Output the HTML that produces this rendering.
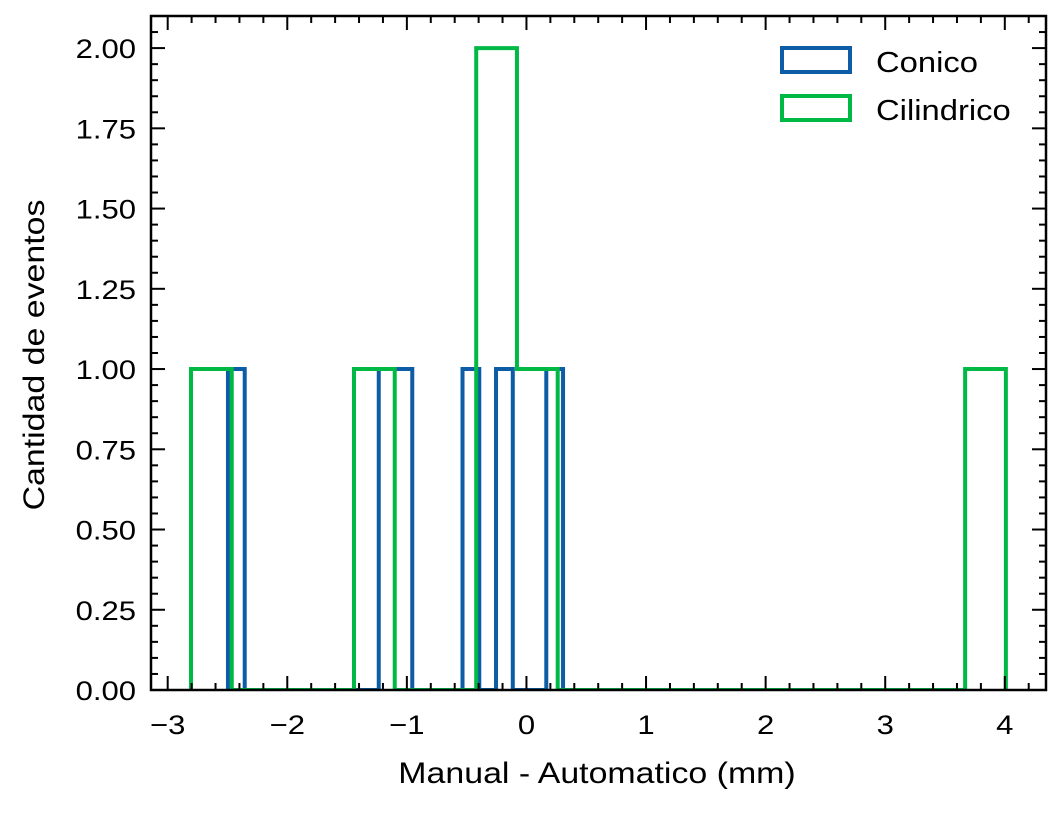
<!DOCTYPE html>
<html><head><meta charset="utf-8"><style>
body{margin:0;background:#fff}
svg text{font-family:"Liberation Sans",sans-serif;fill:#000}
</style></head><body>
<svg id="chart" width="1063" height="808" xmlns="http://www.w3.org/2000/svg"></svg>
<script>
const conicoStart = -2.496;
const conicoWidth = 0.1401;
const conicoCounts = [1,0,0,0,0,0,0,0,0,1,1,0,0,0,1,0,1,0,0,1];
const cilStart = -2.805;
const cilWidth = 0.3407;
const cilCounts = [1,0,0,0,1,0,0,2,1,0,0,0,0,0,0,0,0,0,0,1];
const xTicks = [-3,-2,-1,0,1,2,3,4];
const xTickLabels = ["\u22123","\u22122","\u22121","0","1","2","3","4"];
const yTicks = [0,0.25,0.5,0.75,1,1.25,1.5,1.75,2];
const yTickLabels = ["0.00","0.25","0.50","0.75","1.00","1.25","1.50","1.75","2.00"];

const L=151,R=1046,T=16,B=690;
const xmin=-3.1396,xmax=4.3445,ymin=0,ymax=2.1;
const X=v=>L+(v-xmin)/(xmax-xmin)*(R-L);
const Y=v=>B-(v-ymin)/(ymax-ymin)*(B-T);
const SX=1.15;
const svg=document.getElementById('chart');
const NS='http://www.w3.org/2000/svg';
function mk(tag,attrs,parent){const e=document.createElementNS(NS,tag);for(const k in attrs)e.setAttribute(k,attrs[k]);(parent||svg).appendChild(e);return e;}

function stepPath(start,width,counts){
  let d='';let first=true;
  for(let i=0;i<counts.length;i++){
    const x0=X(start+i*width),x1=X(start+(i+1)*width),y=Y(counts[i]);
    if(first){d+='M'+x0+','+Y(0);first=false;}
    d+=' L'+x0+','+y+' L'+x1+','+y;
  }
  d+=' L'+X(start+counts.length*width)+','+Y(0);
  return d;
}
const clipDef=mk('clipPath',{id:'clip'});
mk('rect',{x:L,y:T,width:R-L,height:B-T},clipDef);
const p1=mk('path',{d:stepPath(conicoStart,conicoWidth,conicoCounts),fill:'none',stroke:'#0C5DA5','stroke-width':4,'clip-path':'url(#clip)'});


const p2=mk('path',{d:stepPath(cilStart,cilWidth,cilCounts),fill:'none',stroke:'#00B945','stroke-width':4,'clip-path':'url(#clip)'});



const tg=mk('g',{stroke:'#000','stroke-width':2});
for(let v=-3;v<=4.3;v+=0.2){const vv=Math.round(v*10)/10;const x=X(vv);if(x<L||x>R)continue;
  const major=Math.abs(vv-Math.round(vv))<1e-6;const len=major?14:7;
  mk('line',{x1:x,y1:B,x2:x,y2:B-len},tg);mk('line',{x1:x,y1:T,x2:x,y2:T+len},tg);}
for(let i=0;i<=42;i++){const v=i*0.05;const y=Y(v);const major=i%5==0;const len=major?14:7;
  mk('line',{x1:L,y1:y,x2:L+len,y2:y},tg);mk('line',{x1:R,y1:y,x2:R-len,y2:y},tg);}
xTicks.forEach((v,i)=>{const t=mk('text',{transform:'translate('+X(v)+',734) scale('+SX+',1)','font-size':27,'text-anchor':'middle'});t.textContent=xTickLabels[i];
  
  });
yTicks.forEach((v,i)=>{const t=mk('text',{transform:'translate(136,'+(Y(v)+10)+') scale('+SX+',1)','font-size':27,'text-anchor':'end'});t.textContent=yTickLabels[i];
  
  });
const frame=mk('rect',{x:L,y:T,width:R-L,height:B-T,fill:'none',stroke:'#000','stroke-width':2.5});


</script>
<svg style="position:absolute;left:0;top:0" width="1063" height="808" xmlns="http://www.w3.org/2000/svg">
<text transform="translate(597,783) scale(1.13,1)" font-size="30" text-anchor="middle">Manual - Automatico (mm)</text>
<text transform="translate(44,355) rotate(-90) scale(1.13,1)" font-size="30" text-anchor="middle">Cantidad de eventos</text>
<g>
<g>
<rect x="782" y="48" width="68" height="24" fill="none" stroke="#0C5DA5" stroke-width="4"/>
<text transform="translate(876,72) scale(1.13,1)" font-size="29">Conico</text></g>
<g>
<rect x="782" y="96" width="68" height="24" fill="none" stroke="#00B945" stroke-width="4"/>
<text transform="translate(876,120) scale(1.13,1)" font-size="29">Cilindrico</text></g>
</g>
</svg>
</body></html>
